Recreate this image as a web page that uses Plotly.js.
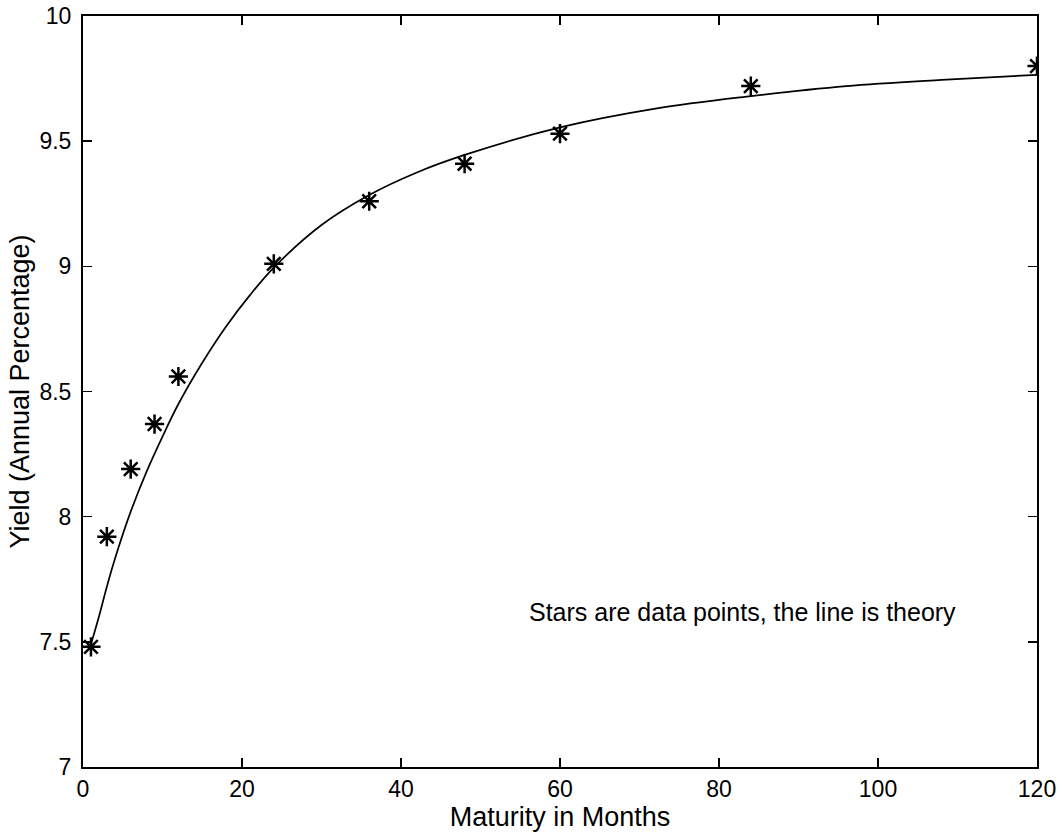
<!DOCTYPE html>
<html>
<head>
<meta charset="utf-8">
<script src="https://cdn.plot.ly/plotly-3.0.1.min.js"></script>
<style>html,body{margin:0;padding:0;background:#fff;}#chart{width:1062px;height:838px;}</style>
</head>
<body>
<div id="chart"></div>
<script>
// Observed yields (stars)
const dataMaturity = [1, 3, 6, 9, 12, 24, 36, 48, 60, 84, 120];
const dataYield = [7.48, 7.92, 8.19, 8.37, 8.56, 9.01, 9.26, 9.41, 9.53, 9.72, 9.80];

// Theoretical curve (line)
const theoryMaturity = [1, 2, 3, 4, 6, 8, 10, 12, 15, 18, 21, 24, 30, 36, 42, 48, 60, 72, 84, 96, 108, 120];
const theoryYield = [7.49, 7.60, 7.72, 7.83, 8.02, 8.18, 8.32, 8.45, 8.615, 8.76, 8.885, 8.995, 9.165, 9.285, 9.375, 9.445, 9.555, 9.63, 9.68, 9.72, 9.745, 9.765];

const xTicks = [0, 20, 40, 60, 80, 100, 120];
const yTicks = [7, 7.5, 8, 8.5, 9, 9.5, 10];

const fam = 'Liberation Sans, Arial, Helvetica, sans-serif';
const tickFont = {family: fam, color: '#000', size: 23};
const titleFont = {family: fam, color: '#000', size: 27};
const noteFont = {family: fam, color: '#000', size: 25};

const traces = [
  {
    x: theoryMaturity, y: theoryYield, type: 'scatter', mode: 'lines',
    line: {color: '#000', width: 1.7, shape: 'spline', smoothing: 1},
    hoverinfo: 'skip', showlegend: false
  },
  {
    x: dataMaturity, y: dataYield, type: 'scatter', mode: 'markers',
    marker: {symbol: 'asterisk-open', size: 16, color: '#000', line: {color: '#000', width: 2.5}},
    showlegend: false
  }
];

const axisCommon = {
  showgrid: false, zeroline: false, showline: true, linecolor: '#000', linewidth: 2,
  mirror: 'allticks', ticks: 'inside', ticklen: 9, tickwidth: 1.5, tickcolor: '#000',
  tickfont: tickFont
};

const layout = {
  width: 1062, height: 838,
  margin: {l: 83, r: 25, t: 16, b: 71},
  paper_bgcolor: '#fff', plot_bgcolor: '#fff',
  font: tickFont,
  xaxis: Object.assign({}, axisCommon, {
    range: [0, 120], tickvals: xTicks, ticktext: xTicks.map(String),
    title: {text: 'Maturity in Months', font: titleFont, standoff: 0}
  }),
  yaxis: Object.assign({}, axisCommon, {
    range: [7, 10], tickvals: yTicks, ticktext: yTicks.map(String),
    ticklabelstandoff: 5,
    title: {text: 'Yield (Annual Percentage)', font: titleFont, standoff: 2}
  }),
  annotations: [{
    x: 55.8, y: 7.62, xref: 'x', yref: 'y', xanchor: 'left', yanchor: 'middle',
    text: 'Stars are data points, the line is theory', showarrow: false, font: noteFont
  }]
};

Plotly.newPlot('chart', traces, layout, {displayModeBar: false, staticPlot: true});
</script>
</body>
</html>
